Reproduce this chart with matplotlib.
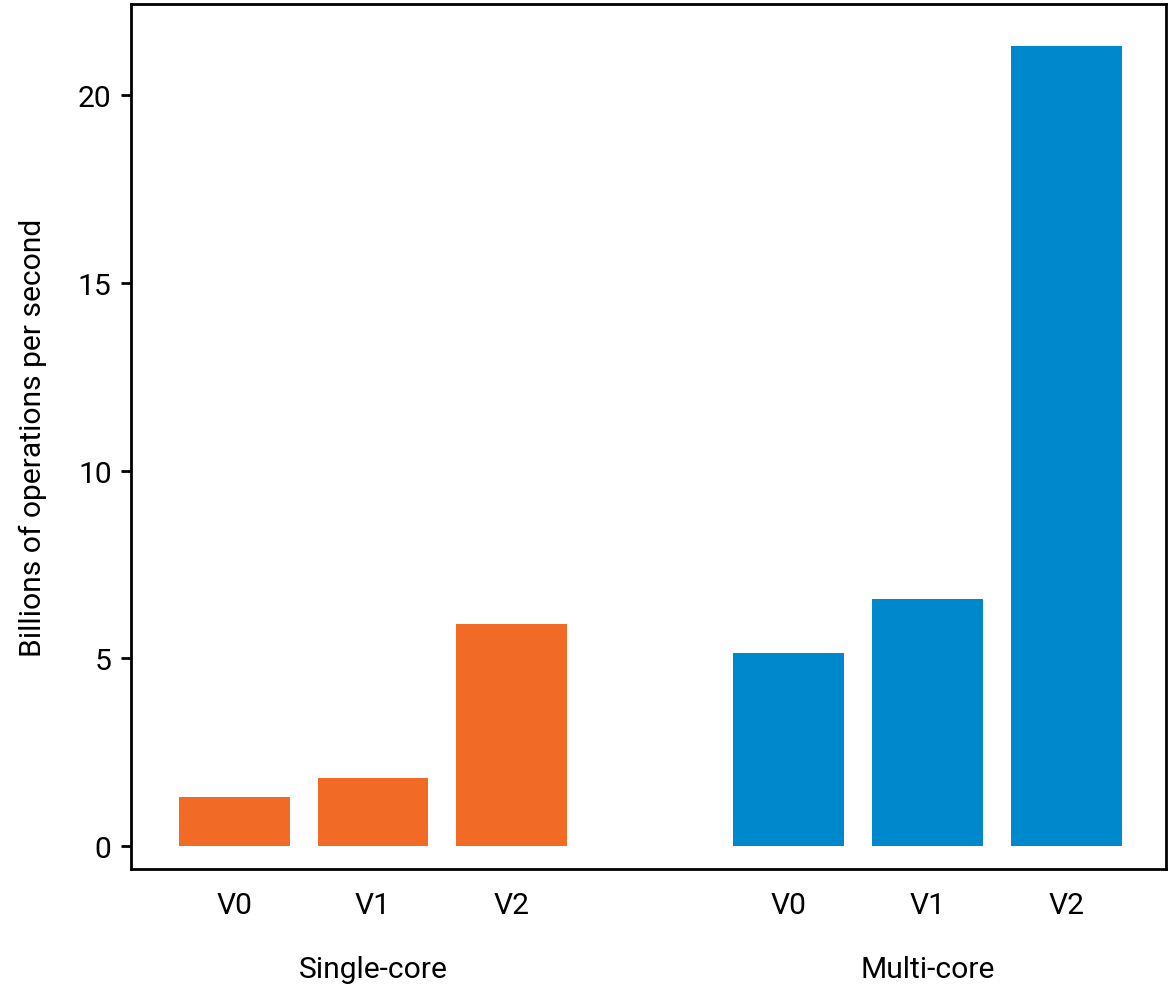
import matplotlib
matplotlib.use("Agg")
import matplotlib.pyplot as plt

plt.rcParams['font.family'] = ['Roboto', 'DejaVu Sans']
plt.rcParams['font.size'] = 10.8
plt.rcParams['axes.linewidth'] = 1.0
plt.rcParams['ytick.major.width'] = 1.0

# benchmark results (billions of ops/sec)
versions = ["V0", "V1", "V2"]
groups = ["Single-core", "Multi-core"]
single_core = [1.30, 1.81, 5.91]
multi_core = [5.14, 6.58, 21.3]
group_colors = ["#f26b26", "#0088cc"]

fig = plt.figure(figsize=(5.84, 4.935), dpi=200)
ax = fig.add_axes([0.1122, 0.1185, 0.8861, 0.8764])

# groups separated by one empty slot
single_x = list(range(len(versions)))
multi_x = [x + len(versions) + 1 for x in single_x]

ax.bar(single_x, single_core, width=0.8, color=group_colors[0])
ax.bar(multi_x, multi_core, width=0.8, color=group_colors[1])

ax.set_xticks(single_x + multi_x)
ax.set_xticklabels(versions + versions)
ax.tick_params(axis="x", length=0, pad=8)
ax.set_yticks([0, 5, 10, 15, 20])
ax.set_xlim(-0.745, 6.72)
ax.set_ylim(-0.61, 22.42)
ax.set_ylabel("Billions of operations per second", labelpad=11)

# group names under the version labels
sec = ax.secondary_xaxis("bottom")
sec.set_xticks([sum(single_x) / 3, sum(multi_x) / 3])
sec.set_xticklabels(groups)
sec.tick_params(length=0, pad=31)
sec.spines["bottom"].set_visible(False)

fig.savefig("out.png", dpi=200)
